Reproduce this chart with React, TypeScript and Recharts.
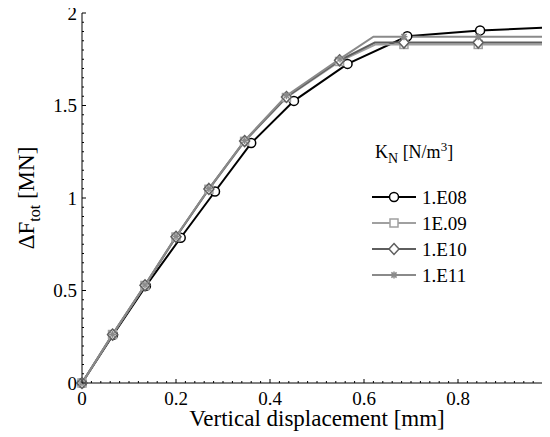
import React from 'react';
import { LineChart, Line, XAxis, YAxis, Legend } from 'recharts';

// ---- data ----
const seriesNames = ['1.E08', '1E.09', '1.E10', '1.E11'];

const dispE08 = [0, 0.066, 0.136, 0.21, 0.283, 0.36, 0.451, 0.565, 0.692, 0.847, 1.0];
const forceE08 = [0, 0.26, 0.525, 0.785, 1.035, 1.297, 1.525, 1.725, 1.874, 1.906, 1.922];

const dispE09 = [0, 0.065, 0.134, 0.2, 0.27, 0.346, 0.435, 0.548, 0.625, 0.685, 0.843, 1.0];
const forceE09 = [0, 0.262, 0.527, 0.789, 1.047, 1.306, 1.543, 1.738, 1.83, 1.83, 1.83, 1.83];

const dispE10 = [0, 0.065, 0.134, 0.2, 0.27, 0.346, 0.435, 0.548, 0.623, 0.685, 0.843, 1.0];
const forceE10 = [0, 0.262, 0.528, 0.79, 1.049, 1.308, 1.546, 1.744, 1.84, 1.84, 1.84, 1.84];

const dispE11 = [0, 0.065, 0.134, 0.2, 0.27, 0.346, 0.435, 0.549, 0.62, 0.685, 0.843, 1.0];
const forceE11 = [0, 0.263, 0.53, 0.792, 1.05, 1.31, 1.553, 1.752, 1.872, 1.872, 1.872, 1.872];

// index of a vertex drawn without a marker (-1: none)
const noMarkerIdx = [-1, 8, 8, 8];

const xMajorTicks = [0, 0.2, 0.4, 0.6, 0.8, 1];
const yMajorTicks = [0, 0.5, 1, 1.5, 2];
const xMinorStep = 0.02;
const yMinorStep = 0.05;

const xTitle = 'Vertical displacement [mm]';

// ---- styles ----
const FONT = '"Liberation Serif", "Times New Roman", serif';
const colors = ['#000000', '#a0a0a0', '#5e5e5e', '#8a8a8a'];
const markers = ['circle', 'square', 'diamond', 'asterisk'];

const series = seriesNames.map((name, i) => {
  const disp = [dispE08, dispE09, dispE10, dispE11][i];
  const force = [forceE08, forceE09, forceE10, forceE11][i];
  return {
    name,
    color: colors[i],
    marker: markers[i],
    skip: noMarkerIdx[i],
    data: disp.map((x, k) => ({ x, y: force[k] })),
  };
});

function makeTicks(max: number, step: number) {
  const out: number[] = [];
  const n = Math.round(max / step);
  for (let i = 0; i <= n; i++) out.push(Number((i * step).toFixed(4)));
  return out;
}
const xTicks = makeTicks(1, xMinorStep);
const yTicks = makeTicks(2, yMinorStep);

const isIn = (v: number, arr: number[]) => arr.some((a) => Math.abs(a - v) < 1e-6);

function Marker({ kind, cx, cy, color }: any) {
  if (kind === 'circle')
    return <circle cx={cx} cy={cy} r={4.5} fill="#fff" stroke={color} strokeWidth={1.5} />;
  if (kind === 'square')
    return <rect x={cx - 4} y={cy - 4} width={8} height={8} fill="#fff" stroke={color} strokeWidth={1.5} />;
  if (kind === 'diamond')
    return (
      <path
        d={`M${cx} ${cy - 5.5}L${cx + 5} ${cy}L${cx} ${cy + 5.5}L${cx - 5} ${cy}Z`}
        fill="#fff"
        stroke={color}
        strokeWidth={1.5}
      />
    );
  const s = 3.5;
  const d = 2.6;
  return (
    <g stroke={color} strokeWidth={1.5}>
      <line x1={cx - s} x2={cx + s} y1={cy} y2={cy} />
      <line x1={cx} x2={cx} y1={cy - s} y2={cy + s} />
      <line x1={cx - d} x2={cx + d} y1={cy - d} y2={cy + d} />
      <line x1={cx - d} x2={cx + d} y1={cy + d} y2={cy - d} />
    </g>
  );
}

const XTick = (props: any) => {
  const { x, y, payload } = props;
  const major = isIn(payload.value, xMajorTicks);
  return (
    <g>
      <line x1={x} x2={x} y1={y} y2={y - (major ? 4 : 2)} stroke="#000" strokeWidth={1} />
      {major && (
        <text x={x} y={y + 22} textAnchor="middle" fontFamily={FONT} fontSize={19} fill="#000">
          {String(payload.value)}
        </text>
      )}
    </g>
  );
};

const YTick = (props: any) => {
  const { x, y, payload } = props;
  const major = isIn(payload.value, yMajorTicks);
  return (
    <g>
      <line x1={x} x2={x + (major ? 4 : 2)} y1={y} y2={y} stroke="#000" strokeWidth={1} />
      {major && (
        <text x={x - 5} y={y + 6.5} textAnchor="end" fontFamily={FONT} fontSize={19} fill="#000">
          {String(payload.value)}
        </text>
      )}
    </g>
  );
};

const XLabel = (props: any) => {
  const vb = props.viewBox || {};
  return (
    <text
      x={vb.x + vb.width / 2}
      y={vb.y + 43}
      textAnchor="middle"
      fontFamily={FONT}
      fontSize={23}
      fill="#000"
    >
      {xTitle}
    </text>
  );
};

const YLabel = (props: any) => {
  const vb = props.viewBox || {};
  const cx = vb.x + 25.5;
  const cy = vb.y + vb.height / 2;
  return (
    <text
      x={cx}
      y={cy}
      transform={`rotate(-90 ${cx} ${cy})`}
      textAnchor="middle"
      fontFamily={FONT}
      fontSize={23}
      fill="#000"
    >
      ΔF
      <tspan dy={6} fontSize={16}>tot</tspan>
      <tspan dy={-6}> [MN]</tspan>
    </text>
  );
};

const LegendBox = () => (
  <svg width={140} height={160} style={{ display: 'block', overflow: 'visible' }}>
    <text x={5} y={23} fontFamily={FONT} fontSize={18} fill="#000">
      K
      <tspan dy={5} fontSize={14}>N</tspan>
      <tspan dy={-5}> [N/m</tspan>
      <tspan dy={-7} fontSize={13}>3</tspan>
      <tspan dy={7}>]</tspan>
    </text>
    {series.map((s, i) => {
      const cy = 62 + i * 26;
      return (
        <g key={s.name}>
          <line x1={2} x2={46} y1={cy} y2={cy} stroke={s.color} strokeWidth={2} />
          <Marker kind={s.marker} cx={24} cy={cy} color={s.color} />
          <text x={52} y={cy + 6.5} fontFamily={FONT} fontSize={19} fill="#000">
            {s.name}
          </text>
        </g>
      );
    })}
  </svg>
);

export default function App() {
  return (
    <div style={{ width: 542, height: 429, overflow: 'hidden', position: 'relative' }}>
      <LineChart width={554} height={429} margin={{ top: 5, right: 10, bottom: 10, left: 0 }}>
        <XAxis
          type="number"
          dataKey="x"
          domain={[0, 1]}
          ticks={xTicks}
          interval={0}
          tickSize={0}
          tickMargin={0}
          tickLine={false}
          tick={XTick}
          height={44}
          axisLine={{ stroke: '#000', strokeWidth: 1 }}
          label={XLabel}
        />
        <YAxis
          type="number"
          domain={[0, 2]}
          ticks={yTicks}
          interval={0}
          tickSize={0}
          tickMargin={0}
          tickLine={false}
          tick={YTick}
          width={74}
          axisLine={{ stroke: '#000', strokeWidth: 1 }}
          label={YLabel}
        />
        <Legend
          layout="vertical"
          align="center"
          verticalAlign="middle"
          content={LegendBox}
          wrapperStyle={{ left: 362, top: 127, width: 140, height: 160 }}
        />
        {series.map((s) => (
          <Line
            key={s.name}
            name={s.name}
            data={s.data}
            dataKey="y"
            type="linear"
            stroke={s.color}
            strokeWidth={2}
            isAnimationActive={false}
            activeDot={false}
            dot={(p: any) =>
              p.index === s.skip ? (
                <g key={`d-${s.name}-${p.index}`} />
              ) : (
                <g key={`d-${s.name}-${p.index}`}>
                  <Marker kind={s.marker} cx={p.cx} cy={p.cy} color={s.color} />
                </g>
              )
            }
          />
        ))}
      </LineChart>
    </div>
  );
}
